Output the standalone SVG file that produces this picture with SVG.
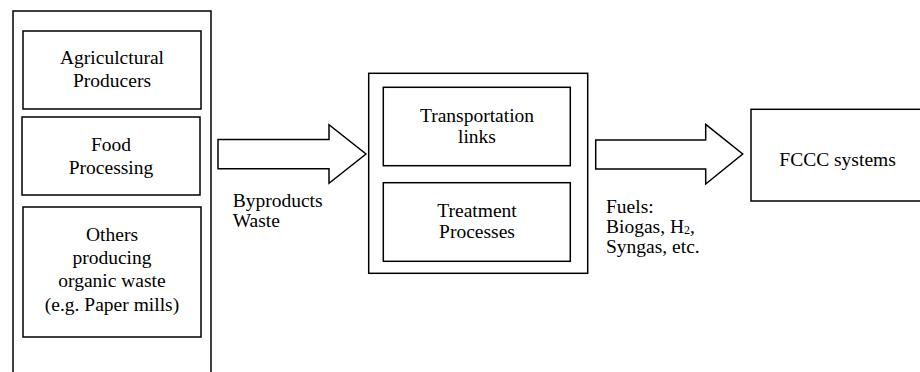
<svg xmlns="http://www.w3.org/2000/svg" width="920" height="372" viewBox="0 0 920 372">
<style>
.b{fill:#fff;stroke:#000;stroke-width:1.5}
.t{font-family:"Liberation Serif","Times New Roman",serif;font-size:19.5px;fill:#000}
.c{text-anchor:middle}
</style>
<rect width="920" height="372" fill="#fff"/>
<g id="sources">
<rect class="b" x="13" y="11" width="198" height="400"/>
</g>
<g id="agricultural">
<rect class="b" x="23" y="31" width="178" height="78"/>
<text class="t c" x="112" y="64">Agriculctural</text>
<text class="t c" x="112" y="87.3">Producers</text>
</g>
<g id="food">
<rect class="b" x="22" y="117" width="178" height="78"/>
<text class="t c" x="111" y="150.7">Food</text>
<text class="t c" x="111" y="174">Processing</text>
</g>
<g id="others">
<rect class="b" x="23" y="207" width="178" height="130"/>
<text class="t c" x="112" y="240.7">Others</text>
<text class="t c" x="112" y="264">producing</text>
<text class="t c" x="112" y="287.3">organic waste</text>
<text class="t c" x="112" y="310.6">(e.g. Paper mills)</text>
</g>
<g id="processing">
<rect class="b" x="368.7" y="73.3" width="219" height="200"/>
</g>
<g id="transportation">
<rect class="b" x="383.3" y="87.3" width="187" height="78.4"/>
<text class="t c" x="477" y="121.7">Transportation</text>
<text class="t c" x="477" y="143.3">links</text>
</g>
<g id="treatment">
<rect class="b" x="383.3" y="182.7" width="187" height="78.6"/>
<text class="t c" x="477" y="216.7">Treatment</text>
<text class="t c" x="477" y="238.3">Processes</text>
</g>
<g id="fccc">
<rect class="b" x="751" y="109.3" width="175" height="91.7"/>
<text class="t" x="779.3" y="166">FCCC systems</text>
</g>
<g id="connectors">
<polygon class="b" points="218,139.5 329,139.5 329,124.7 366,154 329,183.3 329,168.7 218,168.7"/>
<polygon class="b" points="595.7,140 705.7,140 705.7,124.3 742.7,154 705.7,184 705.7,169 595.7,169"/>
<text class="t" x="232.7" y="206.7">Byproducts</text>
<text class="t" x="232.7" y="226.7">Waste</text>
<text class="t" x="606" y="212.7">Fuels:</text>
<text class="t" x="606" y="232.7">Biogas, H<tspan font-size="12" dy="1.5">2</tspan><tspan dy="-1.5">,</tspan></text>
<text class="t" x="606" y="252.7">Syngas, etc.</text>
</g>
</svg>
